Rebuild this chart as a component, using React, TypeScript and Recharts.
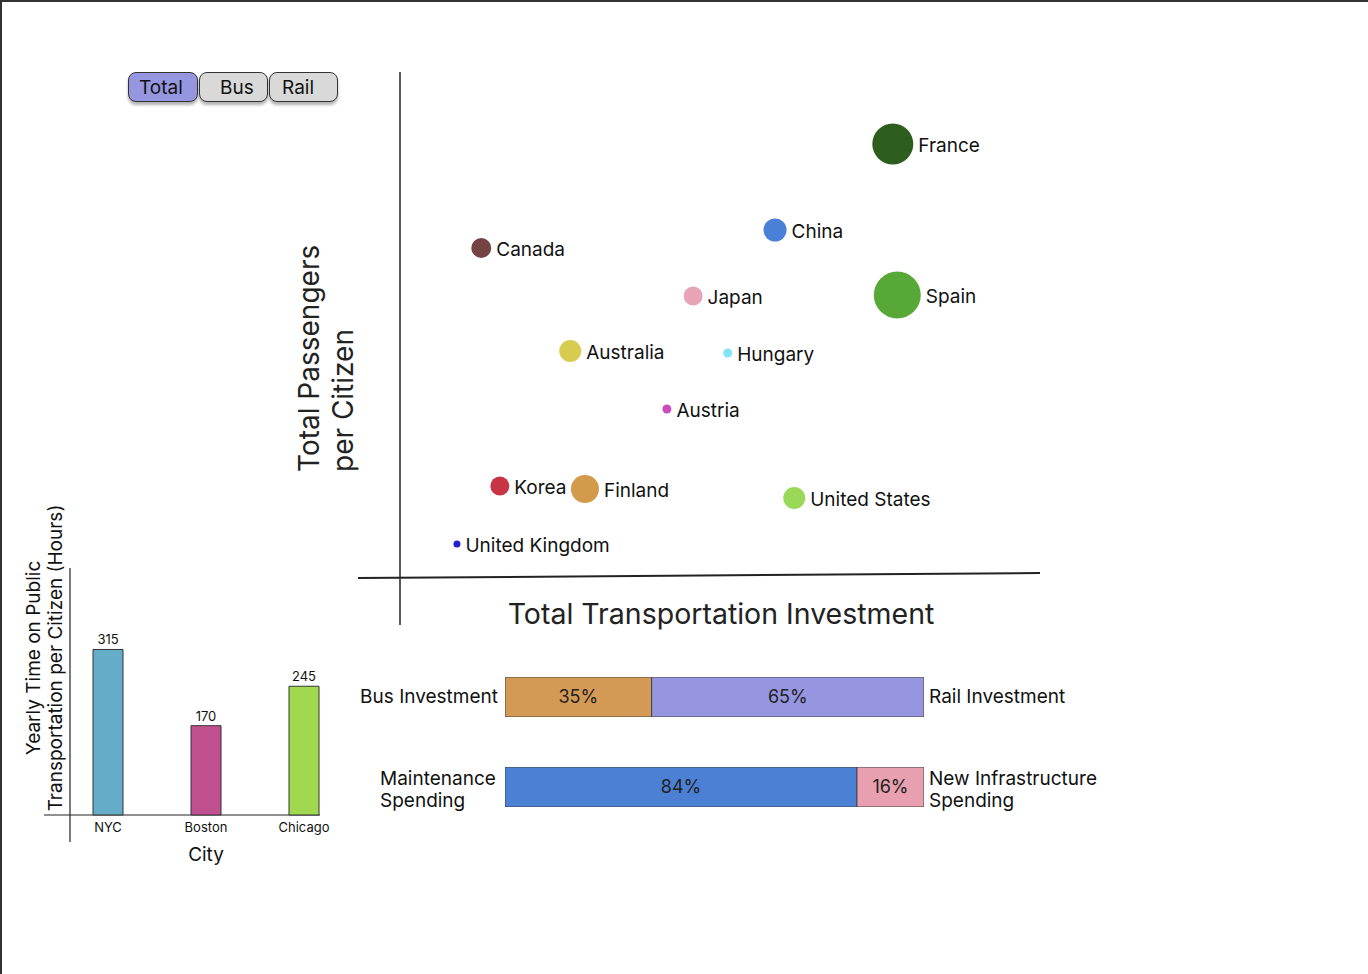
import React from 'react';
import {
  ScatterChart, Scatter, XAxis, YAxis,
  BarChart, Bar, LabelList, Cell,
} from 'recharts';

// Bubble chart : investissement total vs passagers par habitant
const countries = ['France', 'China', 'Canada', 'Japan', 'Spain', 'Australia', 'Hungary', 'Austria', 'Korea', 'Finland', 'United States', 'United Kingdom'];
const investment = [77.0, 58.6, 12.7, 45.8, 77.7, 26.6, 51.2, 41.7, 15.6, 28.9, 61.6, 8.9];
const passengers = [86.2, 69.0, 65.4, 55.8, 56.0, 44.8, 44.4, 33.2, 17.8, 17.2, 15.4, 6.2];
const bubbleSize = [20.5, 11.5, 10, 9.5, 23.5, 11, 4.5, 4.5, 9.5, 14, 11, 3.5];
const bubbleColors = ['#2e5e1e', '#4a80d8', '#744444', '#e8a4b4', '#58a838', '#d8cc50', '#80e4f4', '#c84cbc', '#c83444', '#d49a4c', '#9ad858', '#2020cc'];

// Bar chart : temps annuel par ville
const cities = ['NYC', 'Boston', 'Chicago'];
const hours = [315, 170, 245];
const cityColors = ['#64acc8', '#c05090', '#a0d850'];

// Barres empilées
const busShare = 35;
const railShare = 65;
const maintenanceShare = 84;
const newInfraShare = 16;

const toggles = ['Total', 'Bus', 'Rail'];

const FONT = 'Inter, "Noto Sans", sans-serif';

const scatterData = countries.map((name, i) => ({
  name,
  x: investment[i],
  y: passengers[i],
  size: bubbleSize[i],
  color: bubbleColors[i],
}));

const cityData = cities.map((city, i) => ({ city, hours: hours[i] }));

const BubbleShape = (props: any) => {
  const { cx, cy, payload } = props;
  if (cx == null || cy == null) return null;
  return (
    <g>
      <circle cx={cx} cy={cy} r={payload.size} fill={payload.color} />
      <text
        x={cx + payload.size + 5}
        y={cy + 1}
        dominantBaseline="central"
        fontSize={19}
        fill="#111"
        fontFamily={FONT}
      >
        {payload.name}
      </text>
    </g>
  );
};

const StackBar: React.FC<{ left: number; top: number; first: number; second: number; colors: [string, string] }> = ({ left, top, first, second, colors }) => (
  <div style={{ position: 'absolute', left, top }}>
    <BarChart
      width={419}
      height={40}
      layout="vertical"
      data={[{ name: 'r', a: first, b: second }]}
      margin={{ top: 0, right: 0, left: 0, bottom: 0 }}
      barCategoryGap={0}
    >
      <XAxis type="number" domain={[0, 100]} hide />
      <YAxis type="category" dataKey="name" hide />
      <Bar dataKey="a" stackId="s" fill={colors[0]} stroke="#444" strokeWidth={1} isAnimationActive={false}>
        <LabelList dataKey="a" position="center" formatter={(v: any) => `${v}%`} style={{ fontSize: 18, fill: '#222', fontFamily: FONT }} />
      </Bar>
      <Bar dataKey="b" stackId="s" fill={colors[1]} stroke="#444" strokeWidth={1} isAnimationActive={false}>
        <LabelList dataKey="b" position="center" formatter={(v: any) => `${v}%`} style={{ fontSize: 18, fill: '#222', fontFamily: FONT }} />
      </Bar>
    </BarChart>
  </div>
);

const sideLabel: React.CSSProperties = {
  position: 'absolute',
  fontSize: 19,
  lineHeight: '22px',
  color: '#111',
  whiteSpace: 'nowrap',
};

export default function App() {
  return (
    <div
      style={{
        position: 'absolute',
        left: 0,
        top: 0,
        width: 1368,
        height: 974,
        boxSizing: 'border-box',
        borderLeft: '2px solid #333',
        borderTop: '2px solid #333',
        background: '#fff',
        fontFamily: FONT,
        overflow: 'hidden',
      }}
    >
      {/* Boutons Total / Bus / Rail */}
      {toggles.map((t, i) => (
        <div
          key={t}
          style={{
            position: 'absolute',
            left: [126, 197, 267][i],
            top: 70,
            width: [70, 69, 69][i],
            height: 30,
            boxSizing: 'border-box',
            border: '1.5px solid #333',
            borderRadius: 8,
            background: i === 0 ? '#9595e0' : '#d9d9d9',
            boxShadow: '0 3px 3px rgba(0,0,0,0.3)',
            fontSize: 19,
            lineHeight: '29px',
            paddingLeft: [10, 20, 12][i],
            color: '#111',
          }}
        >
          {t}
        </div>
      ))}

      {/* Axes dessinés à la main */}
      <svg width={1368} height={974} style={{ position: 'absolute', left: -2, top: -2 }}>
        <line x1={400} y1={72} x2={400} y2={625} stroke="#222" strokeWidth={1.5} />
        <line x1={358} y1={578} x2={1040} y2={573} stroke="#222" strokeWidth={2} />
        <line x1={70} y1={568} x2={70} y2={842} stroke="#222" strokeWidth={1.2} />
        <line x1={44} y1={815} x2={320} y2={815} stroke="#222" strokeWidth={1.2} />

        <text transform="translate(319,472) rotate(-90)" fontSize={28} fill="#222" fontFamily={FONT}>
          Total Passengers
        </text>
        <text transform="translate(353,472) rotate(-90)" fontSize={28} fill="#222" fontFamily={FONT}>
          per Citizen
        </text>
        <text x={721} y={613} textAnchor="middle" dominantBaseline="central" fontSize={28.5} fill="#222" fontFamily={FONT}>
          Total Transportation Investment
        </text>

        <text transform="translate(40,658) rotate(-90)" textAnchor="middle" fontSize={19} fill="#111" fontFamily={FONT}>
          Yearly Time on Public
        </text>
        <text transform="translate(62,658) rotate(-90)" textAnchor="middle" fontSize={19} fill="#111" fontFamily={FONT}>
          Transportation per Citizen (Hours)
        </text>
        <text x={206} y={854} textAnchor="middle" dominantBaseline="central" fontSize={19} fill="#111" fontFamily={FONT}>
          City
        </text>
      </svg>

      {/* Bubble chart */}
      <div style={{ position: 'absolute', left: 398, top: 73 }}>
        <ScatterChart width={640} height={500} margin={{ top: 0, right: 0, left: 0, bottom: 0 }}>
          <XAxis type="number" dataKey="x" domain={[0, 100]} hide />
          <YAxis type="number" dataKey="y" domain={[0, 100]} hide />
          <Scatter data={scatterData} shape={BubbleShape} isAnimationActive={false} />
        </ScatterChart>
      </div>

      {/* Bar chart par ville */}
      <div style={{ position: 'absolute', left: 57, top: 566 }}>
        <BarChart width={294} height={277} data={cityData} margin={{ top: 0, right: 0, left: 0, bottom: 0 }}>
          <XAxis
            dataKey="city"
            height={30}
            axisLine={false}
            tickLine={false}
            interval={0}
            tick={{ fontSize: 13, fill: '#111', fontFamily: FONT }}
          />
          <YAxis domain={[0, 470]} hide />
          <Bar dataKey="hours" barSize={30} stroke="#333" strokeWidth={1} isAnimationActive={false}>
            {cityData.map((d, i) => (
              <Cell key={d.city} fill={cityColors[i]} />
            ))}
            <LabelList dataKey="hours" position="top" offset={5} style={{ fontSize: 13, fill: '#111', fontFamily: FONT }} />
          </Bar>
        </BarChart>
      </div>

      {/* Barres empilées */}
      <StackBar left={503} top={675} first={busShare} second={railShare} colors={['#d49a55', '#9595e0']} />
      <StackBar left={503} top={765} first={maintenanceShare} second={newInfraShare} colors={['#4c80d4', '#e8a0b0']} />

      <div style={{ ...sideLabel, right: 1368 - 498, top: 684 }}>Bus Investment</div>
      <div style={{ ...sideLabel, left: 927, top: 684 }}>Rail Investment</div>
      <div style={{ ...sideLabel, left: 378, top: 766 }}>
        Maintenance
        <br />
        Spending
      </div>
      <div style={{ ...sideLabel, left: 927, top: 766 }}>
        New Infrastructure
        <br />
        Spending
      </div>
    </div>
  );
}
